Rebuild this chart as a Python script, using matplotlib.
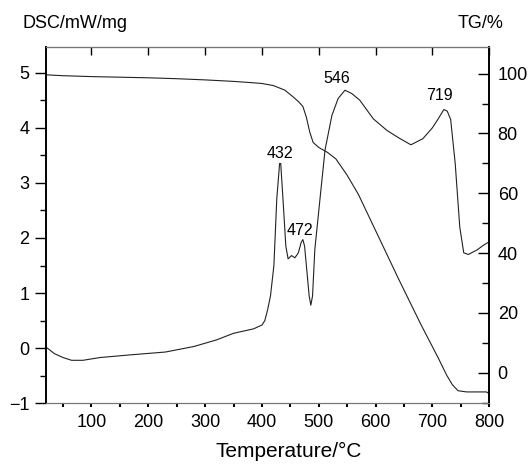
import numpy as np
import matplotlib.pyplot as plt
from matplotlib.ticker import MultipleLocator

# DSC / TG curves
temp_dsc = [20, 35, 50, 65, 85, 115, 170, 230, 280, 320, 350, 385, 400, 405, 410,
            415, 421, 426, 431, 433, 437, 442, 446, 452, 458, 464, 469, 472, 475,
            479, 483, 486, 489, 493, 502, 511, 523, 534, 546, 558, 572, 596, 620,
            640, 662, 683, 700, 710, 720, 726, 732, 740, 748, 755, 763, 778, 790, 800]
dsc = [0.02, -0.1, -0.17, -0.22, -0.22, -0.17, -0.12, -0.07, 0.03, 0.15, 0.27, 0.35,
       0.42, 0.5, 0.7, 0.95, 1.5, 2.7, 3.35, 3.35, 2.7, 1.85, 1.62, 1.68, 1.64, 1.73,
       1.92, 1.97, 1.85, 1.4, 0.95, 0.78, 0.95, 1.79, 2.7, 3.6, 4.22, 4.53, 4.68, 4.62,
       4.5, 4.16, 3.95, 3.82, 3.69, 3.8, 4.0, 4.16, 4.33, 4.3, 4.15, 3.35, 2.2, 1.73,
       1.70, 1.78, 1.87, 1.93]

temp_tg = [20, 50, 100, 150, 200, 250, 300, 350, 380, 400, 420, 440, 455, 465, 472,
           478, 484, 490, 500, 515, 530, 550, 570, 600, 640, 680, 710, 725, 735, 745,
           760, 795, 800]
tg = [99.6, 99.3, 99.0, 98.8, 98.6, 98.3, 97.9, 97.4, 97.0, 96.7, 96.0, 94.5, 92.2,
      90.5, 89.0, 85.5, 80.5, 77.0, 75.3, 73.7, 71.5, 66.0, 59.5, 47.5, 31.5, 16.0,
      5.0, -0.8, -4.0, -6.0, -6.4, -6.4, -7.0]

# peak labels: text, temperature, DSC position of label
peak_text = ["432", "472", "546", "719"]
peak_x = [431, 467, 532, 713]
peak_y = [3.54, 2.14, 4.89, 4.59]

plt.rcParams['font.family'] = ['Liberation Sans', 'DejaVu Sans']
plt.rcParams['font.size'] = 13

fig = plt.figure(figsize=(5.31, 4.65), dpi=100)
ax = fig.add_axes([0.0866, 0.1327, 0.8349, 0.7669])
ax2 = ax.twinx()

ax.plot(temp_dsc, dsc, color='#222222', lw=0.8)
ax2.plot(temp_tg, tg, color='#222222', lw=0.8)

for t, x, y in zip(peak_text, peak_x, peak_y):
    ax.text(x, y, t, ha='center', va='center', fontsize=11.5)

ax.set_xlim(20, 800)
ax.set_ylim(-1, 5.47)
ax2.set_ylim(-10.2, 109)

ax.xaxis.set_major_locator(MultipleLocator(100))
ax.xaxis.set_minor_locator(MultipleLocator(50))
ax.yaxis.set_major_locator(MultipleLocator(1))
ax.yaxis.set_minor_locator(MultipleLocator(0.5))
ax2.yaxis.set_major_locator(MultipleLocator(20))
ax2.yaxis.set_minor_locator(MultipleLocator(10))

ax.tick_params(axis='x', which='both', direction='out', length=3, width=1.5, pad=5)
ax.tick_params(axis='y', which='major', direction='out', length=8, width=1, pad=4)
ax.tick_params(axis='y', which='minor', direction='out', length=4, width=1)
ax2.tick_params(axis='y', which='major', direction='in', length=8, width=1, pad=6)
ax2.tick_params(axis='y', which='minor', direction='in', length=5, width=1)

# top ticks point inward, only at the hundreds
top = ax.secondary_xaxis('top')
top.set_xticks(range(100, 801, 100))
top.tick_params(direction='in', length=6, width=1, labeltop=False)
top.spines['top'].set_color('#777777')

for a in (ax, ax2):
    a.spines['top'].set_color('#777777')
    a.spines['bottom'].set_color('#777777')
    a.spines['left'].set_linewidth(1.2)
    a.spines['right'].set_linewidth(1.2)

fig.text(22 / 531, 1 - 23 / 465, "DSC/mW/mg", ha='left', va='center', fontsize=13)
fig.text(503 / 531, 1 - 23 / 465, "TG/%", ha='right', va='center', fontsize=13)
fig.text(289 / 531, 1 - 451 / 465, "Temperature/°C", ha='center', va='center', fontsize=15)

fig.savefig("out.png", dpi=100)
